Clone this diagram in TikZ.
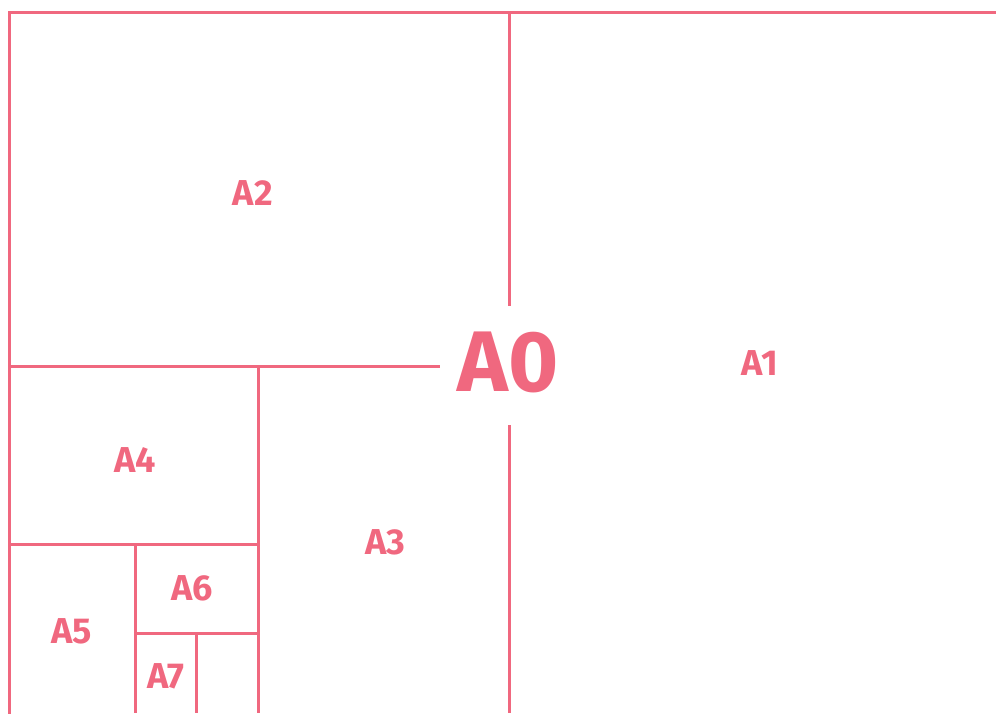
\documentclass[tikz,border=0pt]{standalone}
\usepackage{fontspec}
\setmainfont{Fira Sans}
\definecolor{pk}{HTML}{F0687F}
\begin{document}
\begin{tikzpicture}[x=1pt,y=-1pt,
  ln/.style={draw=pk,line width=3pt},
  lab/.style={text=pk,font=\fontsize{36}{36}\selectfont\bfseries,inner sep=0pt},
  big/.style={text=pk,font=\fontsize{86}{86}\selectfont\bfseries,inner sep=0pt}]
\useasboundingbox (0,0) rectangle (996,713);
% frame
\coordinate (tl) at (9,12);
\coordinate (tr) at (996,12);
\coordinate (bl) at (9,713);
\draw[ln,line cap=rect] (tr) -- (tl) -- (bl);
% A0 split
\coordinate (v1a) at (509,12);
\coordinate (v1b) at (509,306);
\coordinate (v1c) at (509,425);
\coordinate (v1d) at (509,713);
\draw[ln] (v1a) -- (v1b);
\draw[ln] (v1c) -- (v1d);
\coordinate (h1a) at (9,366);
\coordinate (h1b) at (440,366);
\draw[ln] (h1a) -- (h1b);
\coordinate (v2a) at (258,366);
\coordinate (v2b) at (258,713);
\draw[ln] (v2a) -- (v2b);
\coordinate (h2a) at (9,544);
\coordinate (h2b) at (258,544);
\draw[ln] (h2a) -- (h2b);
\coordinate (v3a) at (135,544);
\coordinate (v3b) at (135,713);
\draw[ln] (v3a) -- (v3b);
\coordinate (h3a) at (135,633);
\coordinate (h3b) at (258,633);
\draw[ln] (h3a) -- (h3b);
\coordinate (v4a) at (196,633);
\coordinate (v4b) at (196,713);
\draw[ln] (v4a) -- (v4b);
% labels
\node[big] (A0) at (508,362) {A0};
\node[lab] (A1) at (760,363) {A1};
\node[lab] (A2) at (253,193) {A2};
\node[lab] (A3) at (385,542) {A3};
\node[lab] (A4) at (135,460) {A4};
\node[lab] (A5) at (72,631) {A5};
\node[lab] (A6) at (192,588) {A6};
\node[lab] (A7) at (166,676) {A7};
\end{tikzpicture}
\end{document}
